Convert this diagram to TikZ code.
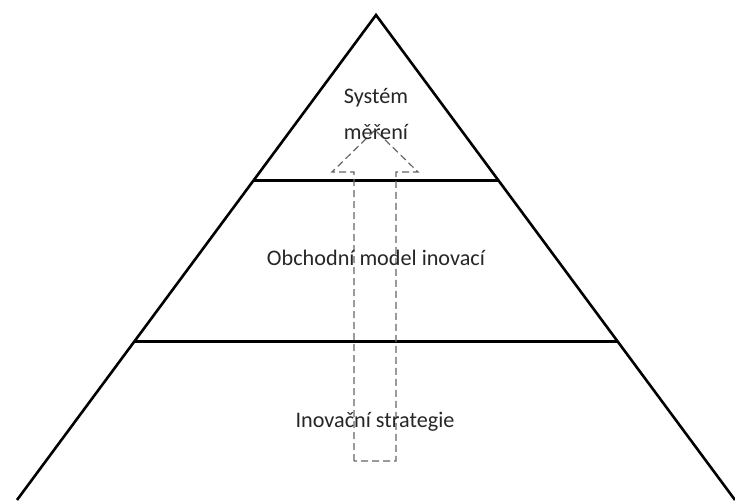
\documentclass[tikz,border=0pt]{standalone}
\usepackage{fontspec}
\setmainfont{Carlito}

\begin{document}
\begin{tikzpicture}[x=1pt,y=-1pt]
  \useasboundingbox (0,0) rectangle (735,500);
  \tikzset{
    edge/.style={line width=2.6pt,black},
    level/.style={line width=3pt,black},
    arrowline/.style={black!60,line width=1.2pt,dash pattern=on 7pt off 4pt},
    label/.style={font=\fontsize{22.2}{26}\selectfont,text=black!85,align=center,inner sep=0pt}
  }

  % vârful și colțurile bazei
  \coordinate (V) at (376,15);
  \coordinate (BL) at (17,500);
  \coordinate (BR) at (735,500);

  % laturile piramidei
  \draw[edge] (BL) -- (V) -- (BR);

  % nivelurile
  \coordinate (L1) at (intersection of V--BL and 0,180--735,180);
  \coordinate (R1) at (intersection of V--BR and 0,180--735,180);
  \coordinate (L2) at (intersection of V--BL and 0,341--735,341);
  \coordinate (R2) at (intersection of V--BR and 0,341--735,341);
  \draw[level] (L1) -- (R1);
  \draw[level] (L2) -- (R2);

  % săgeata punctată
  \coordinate (A1) at (354,461);
  \coordinate (A2) at (354,172);
  \coordinate (A3) at (332,172);
  \coordinate (A4) at (375,130);
  \coordinate (A5) at (418,172);
  \coordinate (A6) at (396,172);
  \coordinate (A7) at (396,461);
  \draw[arrowline] (A1) -- (A2) -- (A3) -- (A4) -- (A5) -- (A6) -- (A7) -- cycle;

  % etichetele
  \node[label] (top) at (376,98) {Systém};
  \node[label] (top2) at (376,132) {měření};
  \node[label] (mid) at (376,258) {Obchodní model inovací};
  \node[label] (bot) at (375,422) {Inovační strategie};
\end{tikzpicture}
\end{document}
